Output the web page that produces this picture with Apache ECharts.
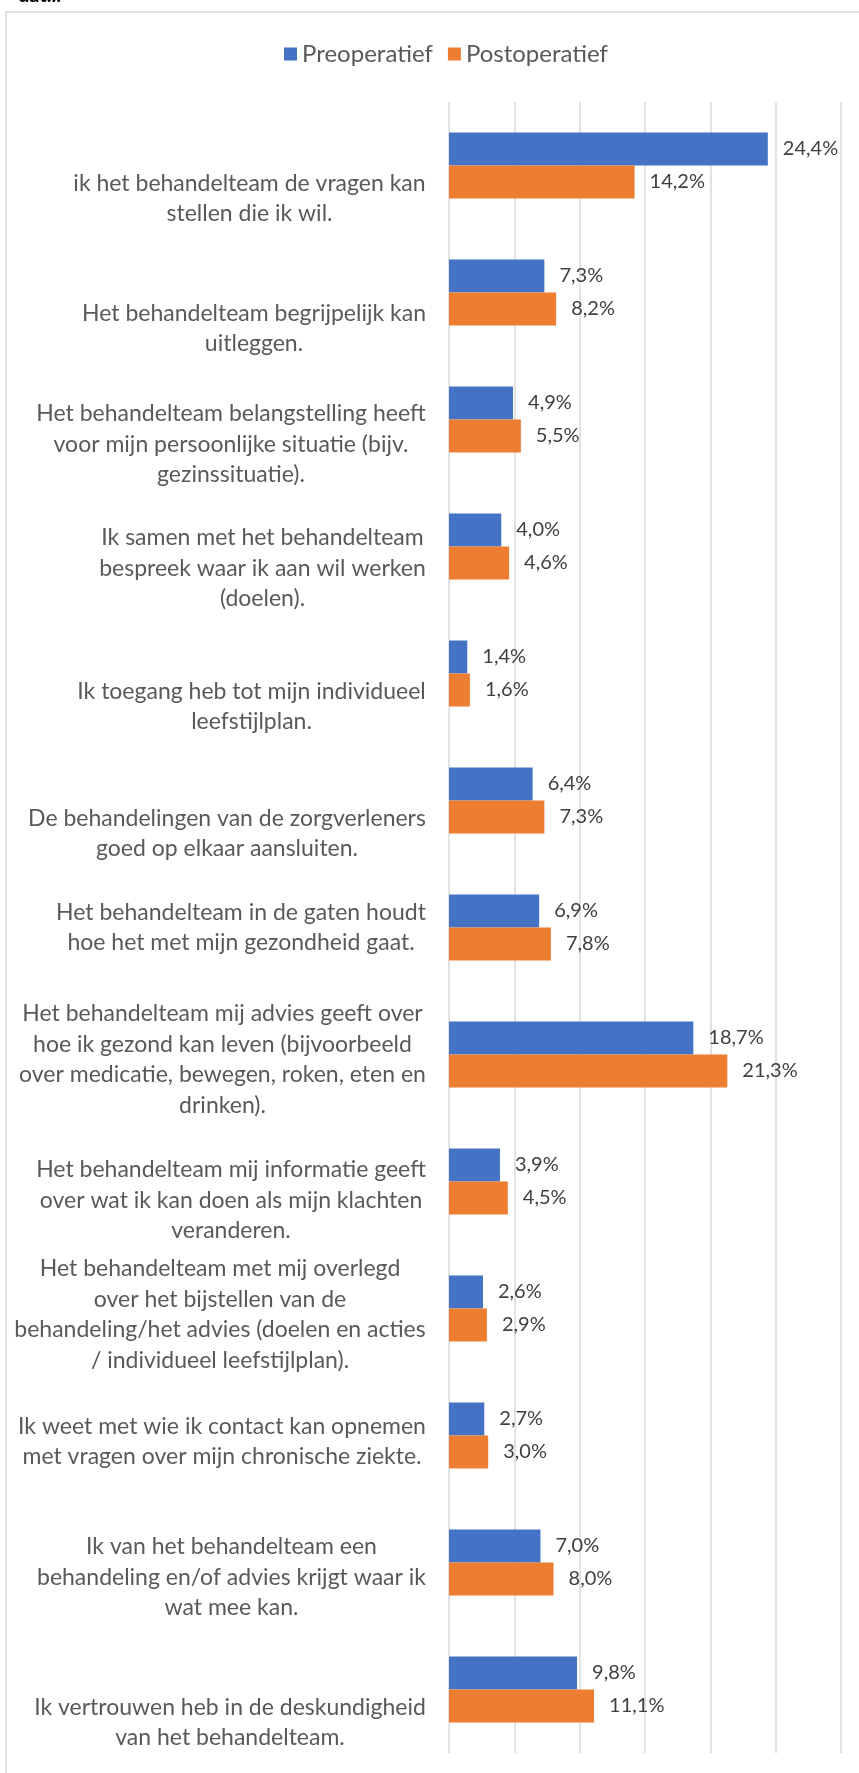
<!DOCTYPE html>
<html>
<head>
<meta charset="utf-8">
<script src="https://cdn.jsdelivr.net/npm/echarts@6/dist/echarts.min.js"></script>
<style>
  html, body { margin: 0; padding: 0; background: #fff; }
  #chart { width: 859px; height: 1773px; }
</style>
</head>
<body>
<div id="chart"></div>
<script>
const categories = [
  'ik het behandelteam de vragen kan\nstellen die ik wil.',
  'Het behandelteam begrijpelijk kan\nuitleggen.',
  'Het behandelteam belangstelling heeft\nvoor mijn persoonlijke situatie (bijv.\ngezinssituatie).',
  'Ik samen met het behandelteam\nbespreek waar ik aan wil werken\n(doelen).',
  'Ik toegang heb tot mijn individueel\nleefstijlplan.',
  'De behandelingen van de zorgverleners\ngoed op elkaar aansluiten.',
  'Het behandelteam in de gaten houdt\nhoe het met mijn gezondheid gaat.',
  'Het behandelteam mij advies geeft over\nhoe ik gezond kan leven (bijvoorbeeld\nover medicatie, bewegen, roken, eten en\ndrinken).',
  'Het behandelteam mij informatie geeft\nover wat ik kan doen als mijn klachten\nveranderen.',
  'Het behandelteam met mij overlegd\nover het bijstellen van de\nbehandeling/het advies (doelen en acties\n/ individueel leefstijlplan).',
  'Ik weet met wie ik contact kan opnemen\nmet vragen over mijn chronische ziekte.',
  'Ik van het behandelteam een\nbehandeling en/of advies krijgt waar ik\nwat mee kan.',
  'Ik vertrouwen heb in de deskundigheid\nvan het behandelteam.'
]
const preoperatief = [24.4, 7.3, 4.9, 4.0, 1.4, 6.4, 6.9, 18.7, 3.9, 2.6, 2.7, 7.0, 9.8]
const postoperatief = [14.2, 8.2, 5.5, 4.6, 1.6, 7.3, 7.8, 21.3, 4.5, 2.9, 3.0, 8.0, 11.1]
const seriesNames = ['Preoperatief', 'Postoperatief']
const xMin = 0
const xMax = 30
const xStep = 5

// vertical nudge (px) of each category label, like Excel places them
const labelShift = [33, 36, 25, 22, 33, 33, 0, 5, 19, 6, 6, 15, 33]

const font = 'Lato'
const labelSize = 23
const textGrey = '#595959'

// widest line of a label, so each line can be centred inside a right-aligned block
const ctx = document.createElement('canvas').getContext('2d')
ctx.font = labelSize + 'px ' + font
const blockWidth = s => Math.ceil(Math.max(...s.split('\n').map(l => ctx.measureText(l).width)))

const rich = {}
categories.forEach((c, i) => {
  rich['t' + i] = { width: blockWidth(c), align: 'center', color: textGrey, fontSize: labelSize, fontFamily: font, lineHeight: 30.5 }
  rich['s' + i] = { fontSize: 1, lineHeight: Math.abs(2 * labelShift[i]) }
})

const fmt = p => p.value.toFixed(1).replace('.', ',') + '%'

const chart = echarts.init(document.getElementById('chart'))
chart.setOption({
  animation: false,
  textStyle: { fontFamily: font },
  legend: {
    data: seriesNames,
    left: 279,
    top: 37,
    itemWidth: 13,
    itemHeight: 13,
    itemGap: 15,
    icon: 'rect',
    textStyle: { color: textGrey, fontSize: 24, fontFamily: font }
  },
  graphic: [
    {
      type: 'rect',
      shape: { x: 6, y: 12, width: 900, height: 1800 },
      style: { fill: 'none', stroke: '#d9d9d9', lineWidth: 1.5 },
      silent: true
    },
    {
      type: 'text',
      left: 18,
      top: -14,
      style: { text: 'dat...', fontSize: 20, fontWeight: 'bold', fill: '#000', fontFamily: font }
    }
  ],
  grid: {
    left: 449,
    right: 18,
    top: 102,
    bottom: 20,
    outerBoundsMode: 'none'
  },
  xAxis: {
    type: 'value',
    min: xMin,
    max: xMax,
    interval: xStep,
    axisLabel: { show: false },
    axisLine: { show: false },
    axisTick: { show: false },
    splitLine: { lineStyle: { color: '#d9d9d9', width: 1.5 } }
  },
  yAxis: {
    type: 'category',
    inverse: true,
    data: categories,
    axisLine: { show: false },
    axisTick: { show: false },
    axisLabel: {
      interval: 0,
      margin: 23,
      align: 'right',
      color: textGrey,
      fontSize: labelSize,
      fontFamily: font,
      rich: rich,
      formatter: (v, i) => {
        const lines = v.split('\n').map(l => '{t' + i + '|' + l + '}')
        const d = labelShift[i]
        if (d > 0) lines.unshift('{s' + i + '| }')
        if (d < 0) lines.push('{s' + i + '| }')
        return lines.join('\n')
      }
    }
  },
  series: [
    {
      name: seriesNames[0],
      type: 'bar',
      data: preoperatief,
      barWidth: 33,
      barGap: '0%',
      itemStyle: { color: '#4472C4' },
      label: { show: true, position: 'right', distance: 15, formatter: fmt, color: '#404040', fontSize: 20, fontFamily: font }
    },
    {
      name: seriesNames[1],
      type: 'bar',
      data: postoperatief,
      barWidth: 33,
      barGap: '0%',
      itemStyle: { color: '#ED7D31' },
      label: { show: true, position: 'right', distance: 15, formatter: fmt, color: '#404040', fontSize: 20, fontFamily: font }
    }
  ]
})
</script>
</body>
</html>
